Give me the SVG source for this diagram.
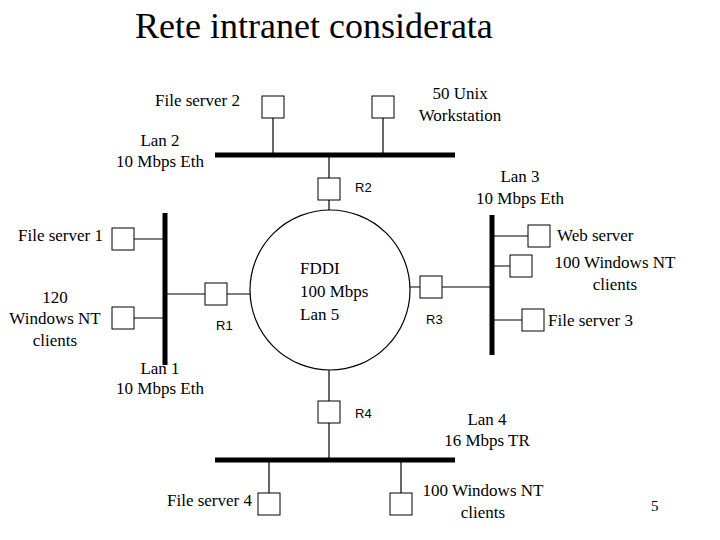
<svg xmlns="http://www.w3.org/2000/svg" width="720" height="540" viewBox="0 0 720 540">
<style>
text{font-family:"Liberation Serif","Times New Roman",serif;font-size:17px;fill:#000}
.t{font-size:36px}
.r{font-size:13px;font-family:"Liberation Sans",Arial,sans-serif}
.m{text-anchor:middle}
.e{text-anchor:end}
.b{fill:#fff;stroke:#000;stroke-width:1}
.bus{stroke:#000;stroke-width:5}
.ln{stroke:#000;stroke-width:1.2;fill:none}
</style>
<rect width="720" height="540" fill="#fff"/>
<text class="t" x="135" y="38">Rete intranet considerata</text>
<g id="connectors">
<line class="bus" x1="215" y1="155" x2="455" y2="155"/>
<line class="bus" x1="165" y1="213" x2="165" y2="365"/>
<line class="bus" x1="492" y1="215" x2="492" y2="355"/>
<line class="bus" x1="215" y1="460" x2="455" y2="460"/>
<path class="ln" d="M273 118V155M383 118V155M329 155V178M329 200V210M134 239H165M134 318H165M165 294H205M227 294H252M409 287H420M442 287H492M492 236H528M492 266H510M492 320H522M329 370V401M329 423V460M269 460V493M401 460V493"/>
</g>
<g id="fddi"><circle cx="330" cy="290" r="80" fill="#fff" stroke="#000" stroke-width="1.2"/>
<text x="300" y="274">FDDI</text><text x="300" y="297">100 Mbps</text><text x="300" y="320">Lan 5</text></g>
<g id="fs2"><rect class="b" x="262" y="96" width="22" height="22"/><text class="e" x="240" y="106">File server 2</text></g>
<g id="unix"><rect class="b" x="372" y="96" width="22" height="22"/><text class="m" x="460" y="99">50 Unix</text><text class="m" x="460" y="121">Workstation</text></g>
<g id="lan2"><text class="m" x="160" y="146">Lan 2</text><text class="m" x="160" y="167">10 Mbps Eth</text></g>
<g id="r2"><rect class="b" x="318" y="178" width="22" height="22"/><text class="r" x="355" y="192">R2</text></g>
<g id="lan3"><text class="m" x="520" y="182">Lan 3</text><text class="m" x="520" y="204">10 Mbps Eth</text></g>
<g id="fs1"><rect class="b" x="112" y="228" width="22" height="22"/><text class="e" x="103" y="241">File server 1</text></g>
<g id="nt120"><rect class="b" x="112" y="307" width="22" height="22"/><text class="m" x="55" y="303">120</text><text class="m" x="55" y="324">Windows NT</text><text class="m" x="55" y="346">clients</text></g>
<g id="r1"><rect class="b" x="205" y="283" width="22" height="22"/><text class="r" x="216" y="330">R1</text></g>
<g id="lan1"><text class="m" x="160" y="374">Lan 1</text><text class="m" x="160" y="394">10 Mbps Eth</text></g>
<g id="r3"><rect class="b" x="420" y="276" width="22" height="22"/><text class="r" x="426" y="324">R3</text></g>
<g id="web"><rect class="b" x="528" y="225" width="22" height="22"/><text x="557" y="241">Web server</text></g>
<g id="nt100a"><rect class="b" x="510" y="255" width="22" height="22"/><text class="m" x="615" y="268">100 Windows NT</text><text class="m" x="615" y="290">clients</text></g>
<g id="fs3"><rect class="b" x="522" y="309" width="22" height="22"/><text x="548" y="326">File server 3</text></g>
<g id="r4"><rect class="b" x="318" y="401" width="22" height="22"/><text class="r" x="355" y="418">R4</text></g>
<g id="lan4"><text class="m" x="487" y="425">Lan 4</text><text class="m" x="487" y="446">16 Mbps TR</text></g>
<g id="fs4"><rect class="b" x="258" y="493" width="22" height="22"/><text class="e" x="252" y="506">File server 4</text></g>
<g id="nt100b"><rect class="b" x="390" y="493" width="22" height="22"/><text class="m" x="483" y="496">100 Windows NT</text><text class="m" x="483" y="518">clients</text></g>
<text x="651" y="511" class="r" style="font-size:15px;font-family:'Liberation Serif',serif">5</text>
</svg>
